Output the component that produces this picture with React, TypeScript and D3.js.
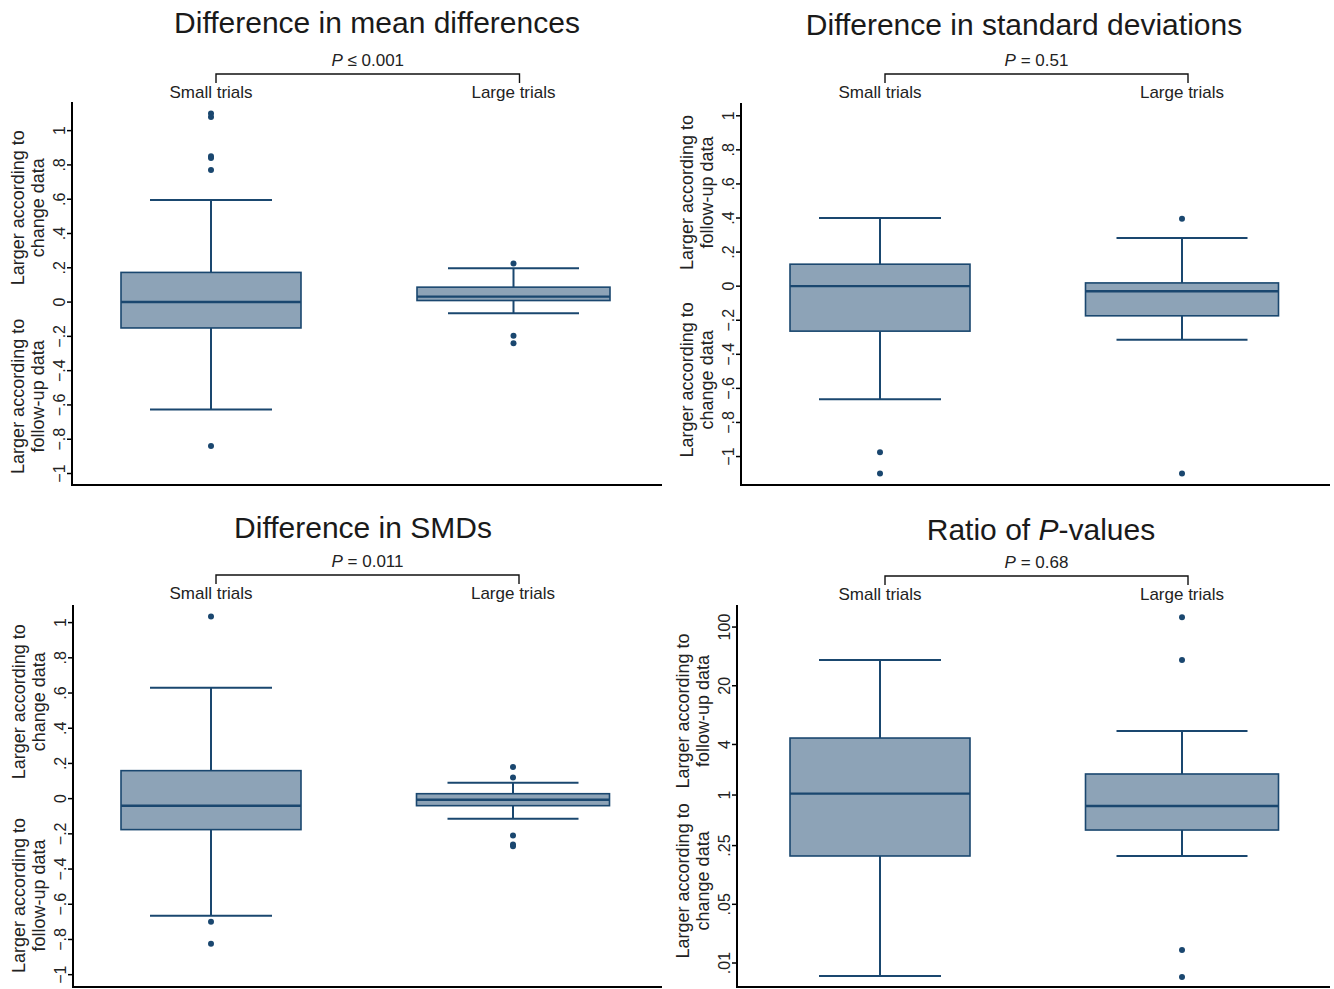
import React from "react";
import * as d3 from "d3";

// ---------- data ----------
const groups = ["Small trials", "Large trials"];

// Box statistics: [lower whisker, Q1, median, Q3, upper whisker]
// Panel 1: difference in mean differences
const mdSmallBox = [-0.627, -0.151, 0.0, 0.173, 0.595];
const mdLargeBox = [-0.065, 0.009, 0.032, 0.087, 0.198];
const mdSmallOut = [1.1, 1.08, 0.85, 0.84, 0.77, -0.84];
const mdLargeOut = [0.225, -0.196, -0.24];

// Panel 2: difference in standard deviations
const sdSmallBox = [-0.663, -0.264, 0.0, 0.129, 0.4];
const sdLargeBox = [-0.315, -0.174, -0.03, 0.019, 0.283];
const sdSmallOut = [-0.975, -1.1];
const sdLargeOut = [0.395, -1.1];

// Panel 3: difference in SMDs
const smdSmallBox = [-0.665, -0.176, -0.04, 0.159, 0.63];
const smdLargeBox = [-0.114, -0.04, -0.006, 0.028, 0.09];
const smdSmallOut = [1.034, -0.7, -0.824];
const smdLargeOut = [0.18, 0.12, -0.21, -0.26, -0.27];

// Panel 4: ratio of P-values (log scale)
const pvSmallBox = [0.007, 0.188, 1.04, 4.77, 40.5];
const pvLargeBox = [0.188, 0.383, 0.74, 1.78, 5.78];
const pvSmallOut: number[] = [];
const pvLargeOut = [131, 40.5, 0.0143, 0.0068];

const linTicks = [-1, -0.8, -0.6, -0.4, -0.2, 0, 0.2, 0.4, 0.6, 0.8, 1];
const logTicks = [0.01, 0.05, 0.25, 1, 4, 20, 100];
const logTickLabels = [".01", ".05", ".25", "1", "4", "20", "100"];

const pTexts = ["\u2264 0.001", "= 0.51", "= 0.011", "= 0.68"];

// ---------- style ----------
const NAVY = "#1a476f";
const FILL = "#8da3b7";
const FONT = "'Liberation Sans', Arial, Helvetica, sans-serif";
const BOX_W = [180, 193];
const CAP_W = [122, 131];

function fmtLin(v: number): string {
  if (Math.abs(v) < 1e-9) return "0";
  const a = Math.abs(v);
  const s = a === 1 ? "1" : d3.format(".1f")(a).replace(/^0/, "");
  return (v < 0 ? "\u2212" : "") + s;
}

interface Spec {
  title: React.ReactNode;
  titleX: number;
  titleY: number;
  pText: string;
  headerY: number;
  top: number;
  bottom: number;
  axisX: number;
  xEnd: number;
  centers: [number, number];
  y: (v: number) => number;
  ticks: number[];
  tickLabels: string[];
  upper: [string, string];
  lower: [string, string];
  upperAt: number;
  lowerAt: number;
  boxes: number[][];
  outliers: number[][];
}

function Panel({ s }: { s: Spec }) {
  const x = d3.scalePoint<string>().domain(groups).range(s.centers);
  const y = s.y;
  const bl = s.centers[0] + 5;
  const br = s.centers[1] + 6;
  const ax = s.axisX;
  return (
    <g fontFamily={FONT}>
      <text x={s.titleX} y={s.titleY} fontSize={30} textAnchor="middle" fill="#1a1a1a">
        {s.title}
      </text>
      <text x={(bl + br) / 2} y={s.headerY - 8} fontSize={17} textAnchor="middle" fill="#222">
        <tspan fontStyle="italic">P</tspan> {s.pText}
      </text>
      <path
        d={`M${bl},${s.headerY + 9}V${s.headerY}H${br}V${s.headerY + 9}`}
        fill="none"
        stroke="#111"
        strokeWidth={1.4}
      />
      {groups.map((g) => (
        <text key={g} x={x(g)} y={s.headerY + 24} fontSize={17} textAnchor="middle" fill="#222">
          {g}
        </text>
      ))}

      {/* axes */}
      <line x1={ax} x2={ax} y1={s.top} y2={s.bottom + 1} stroke="#000" strokeWidth={2} />
      <line x1={ax - 1} x2={s.xEnd} y1={s.bottom} y2={s.bottom} stroke="#000" strokeWidth={2.2} />
      {s.ticks.map((t, i) => (
        <g key={t}>
          <line x1={ax - 5} x2={ax} y1={y(t)} y2={y(t)} stroke="#000" strokeWidth={1.5} />
          <text
            transform={`translate(${ax - 7.5},${y(t)}) rotate(-90)`}
            textAnchor="middle"
            fontSize={16}
            fill="#222"
          >
            {s.tickLabels[i]}
          </text>
        </g>
      ))}
      {[
        { lines: s.upper, at: s.upperAt },
        { lines: s.lower, at: s.lowerAt },
      ].map((lab, k) => (
        <g key={k}>
          <text
            transform={`translate(${ax - 48},${y(lab.at)}) rotate(-90)`}
            textAnchor="middle"
            fontSize={18}
            fill="#222"
          >
            {lab.lines[0]}
          </text>
          <text
            transform={`translate(${ax - 28},${y(lab.at)}) rotate(-90)`}
            textAnchor="middle"
            fontSize={18}
            fill="#222"
          >
            {lab.lines[1]}
          </text>
        </g>
      ))}

      {/* boxes */}
      {groups.map((g, i) => {
        const [wlo, q1, med, q3, whi] = s.boxes[i];
        const cx = x(g) as number;
        const w = BOX_W[i];
        const cw = CAP_W[i];
        return (
          <g key={g}>
            <line x1={cx} x2={cx} y1={y(q3)} y2={y(whi)} stroke={NAVY} strokeWidth={2} />
            <line x1={cx} x2={cx} y1={y(q1)} y2={y(wlo)} stroke={NAVY} strokeWidth={2} />
            <line x1={cx - cw / 2} x2={cx + cw / 2} y1={y(whi)} y2={y(whi)} stroke={NAVY} strokeWidth={2} />
            <line x1={cx - cw / 2} x2={cx + cw / 2} y1={y(wlo)} y2={y(wlo)} stroke={NAVY} strokeWidth={2} />
            <rect
              x={cx - w / 2}
              y={y(q3)}
              width={w}
              height={y(q1) - y(q3)}
              fill={FILL}
              stroke={NAVY}
              strokeWidth={1.6}
            />
            <line x1={cx - w / 2} x2={cx + w / 2} y1={y(med)} y2={y(med)} stroke={NAVY} strokeWidth={2.4} />
            {s.outliers[i].map((o, j) => (
              <circle key={j} cx={cx} cy={y(o)} r={3} fill={NAVY} />
            ))}
          </g>
        );
      })}
    </g>
  );
}

const CHANGE: [string, string] = ["Larger according to", "change data"];
const FOLLOW: [string, string] = ["Larger according to", "follow-up data"];

export default function App() {
  const y1 = d3.scaleLinear().domain([-1.067, 1.167]).range([485, 102]);
  const y2 = d3.scaleLinear().domain([-1.167, 1.075]).range([485, 103]);
  const y3 = d3.scaleLinear().domain([-1.07, 1.1]).range([987, 605]);
  const y4 = d3.scaleLog().domain([0.00518, 183]).range([987, 605]);

  const specs: Spec[] = [
    {
      title: "Difference in mean differences",
      titleX: 377,
      titleY: 33,
      pText: pTexts[0],
      headerY: 74,
      top: 102,
      bottom: 485,
      axisX: 72,
      xEnd: 662,
      centers: [211, 513.5],
      y: y1,
      ticks: linTicks,
      tickLabels: linTicks.map(fmtLin),
      upper: CHANGE,
      lower: FOLLOW,
      upperAt: 0.55,
      lowerAt: -0.55,
      boxes: [mdSmallBox, mdLargeBox],
      outliers: [mdSmallOut, mdLargeOut],
    },
    {
      title: "Difference in standard deviations",
      titleX: 1024,
      titleY: 35,
      pText: pTexts[1],
      headerY: 74,
      top: 103,
      bottom: 485,
      axisX: 741,
      xEnd: 1330,
      centers: [880, 1182],
      y: y2,
      ticks: linTicks,
      tickLabels: linTicks.map(fmtLin),
      upper: FOLLOW,
      lower: CHANGE,
      upperAt: 0.55,
      lowerAt: -0.55,
      boxes: [sdSmallBox, sdLargeBox],
      outliers: [sdSmallOut, sdLargeOut],
    },
    {
      title: "Difference in SMDs",
      titleX: 363,
      titleY: 538,
      pText: pTexts[2],
      headerY: 575,
      top: 605,
      bottom: 987,
      axisX: 73,
      xEnd: 662,
      centers: [211, 513],
      y: y3,
      ticks: linTicks,
      tickLabels: linTicks.map(fmtLin),
      upper: CHANGE,
      lower: FOLLOW,
      upperAt: 0.55,
      lowerAt: -0.55,
      boxes: [smdSmallBox, smdLargeBox],
      outliers: [smdSmallOut, smdLargeOut],
    },
    {
      title: (
        <>
          Ratio of <tspan fontStyle="italic">P</tspan>-values
        </>
      ),
      titleX: 1041,
      titleY: 540,
      pText: pTexts[3],
      headerY: 576,
      top: 605,
      bottom: 987,
      axisX: 737,
      xEnd: 1330,
      centers: [880, 1182],
      y: y4,
      ticks: logTicks,
      tickLabels: logTickLabels,
      upper: FOLLOW,
      lower: CHANGE,
      upperAt: 10,
      lowerAt: 0.095,
      boxes: [pvSmallBox, pvLargeBox],
      outliers: [pvSmallOut, pvLargeOut],
    },
  ];

  return (
    <svg
      width={1334}
      height={989}
      viewBox="0 0 1334 989"
      style={{ position: "absolute", left: 0, top: 0, background: "#fff" }}
    >
      <rect width={1334} height={989} fill="#fff" />
      {specs.map((s, i) => (
        <Panel key={i} s={s} />
      ))}
    </svg>
  );
}
